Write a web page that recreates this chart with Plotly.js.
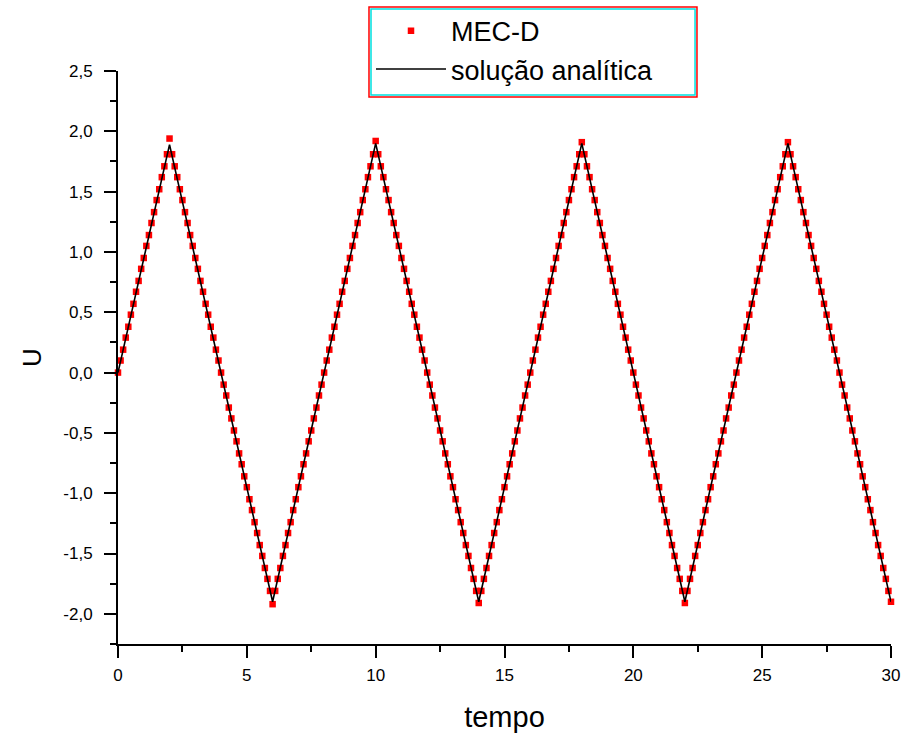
<!DOCTYPE html>
<html>
<head>
<meta charset="utf-8">
<script src="https://cdn.plot.ly/plotly-3.0.1.min.js"></script>
<style>html,body{margin:0;padding:0;background:#fff;}#chart{width:906px;height:747px;}</style>
</head>
<body>
<div id="chart"></div>
<script>
// MEC-D numerical values, sampled every 0.1 time units (t = 0 ... 30)
var u_0_2 = [0.00,0.10,0.19,0.29,0.38,0.48,0.57,0.67,0.76,0.86,0.95,1.05,1.14,1.24,1.33,1.43,1.52,1.62,1.71,1.81,1.94];
var u_2_6 = [1.81,1.71,1.62,1.52,1.43,1.33,1.24,1.14,1.05,0.95,0.86,0.76,0.67,0.57,0.48,0.38,0.29,0.19,0.10,0.00,-0.10,-0.19,-0.29,-0.38,-0.48,-0.57,-0.67,-0.76,-0.86,-0.95,-1.05,-1.14,-1.24,-1.33,-1.43,-1.52,-1.62,-1.71,-1.81,-1.92];
var u_6_10 = [-1.81,-1.71,-1.62,-1.52,-1.43,-1.33,-1.24,-1.14,-1.05,-0.95,-0.86,-0.76,-0.67,-0.57,-0.48,-0.38,-0.29,-0.19,-0.10,0.00,0.10,0.19,0.29,0.38,0.48,0.57,0.67,0.76,0.86,0.95,1.05,1.14,1.24,1.33,1.43,1.52,1.62,1.71,1.81,1.92];
var u_10_14 = [1.81,1.71,1.62,1.52,1.43,1.33,1.24,1.14,1.05,0.95,0.86,0.76,0.67,0.57,0.48,0.38,0.29,0.19,0.10,0.00,-0.10,-0.19,-0.29,-0.38,-0.48,-0.57,-0.67,-0.76,-0.86,-0.95,-1.05,-1.14,-1.24,-1.33,-1.43,-1.52,-1.62,-1.71,-1.81,-1.91];
var u_14_18 = [-1.81,-1.71,-1.62,-1.52,-1.43,-1.33,-1.24,-1.14,-1.05,-0.95,-0.86,-0.76,-0.67,-0.57,-0.48,-0.38,-0.29,-0.19,-0.10,0.00,0.10,0.19,0.29,0.38,0.48,0.57,0.67,0.76,0.86,0.95,1.05,1.14,1.24,1.33,1.43,1.52,1.62,1.71,1.81,1.91];
var u_18_22 = [1.81,1.71,1.62,1.52,1.43,1.33,1.24,1.14,1.05,0.95,0.86,0.76,0.67,0.57,0.48,0.38,0.29,0.19,0.10,0.00,-0.10,-0.19,-0.29,-0.38,-0.48,-0.57,-0.67,-0.76,-0.86,-0.95,-1.05,-1.14,-1.24,-1.33,-1.43,-1.52,-1.62,-1.71,-1.81,-1.91];
var u_22_26 = [-1.81,-1.71,-1.62,-1.52,-1.43,-1.33,-1.24,-1.14,-1.05,-0.95,-0.86,-0.76,-0.67,-0.57,-0.48,-0.38,-0.29,-0.19,-0.10,0.00,0.10,0.19,0.29,0.38,0.48,0.57,0.67,0.76,0.86,0.95,1.05,1.14,1.24,1.33,1.43,1.52,1.62,1.71,1.81,1.91];
var u_26_30 = [1.81,1.71,1.62,1.52,1.43,1.33,1.24,1.14,1.05,0.95,0.86,0.76,0.67,0.57,0.48,0.38,0.29,0.19,0.10,0.00,-0.10,-0.19,-0.29,-0.38,-0.48,-0.57,-0.67,-0.76,-0.86,-0.95,-1.05,-1.14,-1.24,-1.33,-1.43,-1.52,-1.62,-1.71,-1.81,-1.90];
var mecT0 = 0, mecDt = 0.1;
var mecU = [].concat(u_0_2, u_2_6, u_6_10, u_10_14, u_14_18, u_18_22, u_22_26, u_26_30);

// Analytical solution (triangle wave vertices)
var anaT = [0, 2, 6, 10, 14, 18, 22, 26, 30];
var anaU = [0, 1.89, -1.90, 1.90, -1.90, 1.90, -1.90, 1.90, -1.90];

var xTicks = [0, 5, 10, 15, 20, 25, 30];
var xTickText = ['0', '5', '10', '15', '20', '25', '30'];
var yTicks = [-2.0, -1.5, -1.0, -0.5, 0.0, 0.5, 1.0, 1.5, 2.0, 2.5];
var yTickText = ['-2,0', '-1,5', '-1,0', '-0,5', '0,0', '0,5', '1,0', '1,5', '2,0', '2,5'];

var FONT = 'Liberation Sans, Arial, sans-serif';

var traces = [
  {
    type: 'scatter', mode: 'markers', name: 'MEC-D',
    x0: mecT0, dx: mecDt, y: mecU,
    marker: {symbol: 'square', size: 6.5, color: '#ff0000'},
    cliponaxis: false
  },
  {
    type: 'scatter', mode: 'lines', name: 'solução analítica',
    x: anaT, y: anaU,
    line: {color: '#000000', width: 1.6},
    cliponaxis: false
  }
];

var layout = {
  width: 906, height: 747,
  margin: {l: 118, r: 15, t: 71, b: 103, autoexpand: false},
  paper_bgcolor: '#ffffff', plot_bgcolor: '#ffffff',
  separators: ',.',
  font: {family: FONT, color: '#000000', size: 17},
  showlegend: true,
  legend: {
    x: 0.3273, y: 1.112, xanchor: 'left', yanchor: 'top',
    bgcolor: 'rgba(0,0,0,0)', borderwidth: 0,
    font: {family: FONT, size: 27, color: '#000000'},
    itemwidth: 70, tracegroupgap: 0
  },
  xaxis: {
    range: [0, 30], tickvals: xTicks, ticktext: xTickText,
    showgrid: false, zeroline: false, showline: true, linecolor: '#000', linewidth: 2,
    ticks: 'outside', ticklen: 12, tickwidth: 2, tickcolor: '#000',
    minor: {dtick: 2.5, ticks: 'outside', ticklen: 6, tickwidth: 2, tickcolor: '#000', showgrid: false},
    tickfont: {family: FONT, size: 17},
    ticklabelstandoff: 3,
    title: {text: 'tempo', font: {family: FONT, size: 29}, standoff: 22}
  },
  yaxis: {
    range: [-2.25, 2.5], tickvals: yTicks, ticktext: yTickText,
    showgrid: false, zeroline: false, showline: true, linecolor: '#000', linewidth: 2,
    ticks: 'outside', ticklen: 12, tickwidth: 2, tickcolor: '#000',
    minor: {dtick: 0.25, tick0: 0, ticks: 'outside', ticklen: 6, tickwidth: 2, tickcolor: '#000', showgrid: false},
    tickfont: {family: FONT, size: 17},
    ticklabelstandoff: 8,
    title: {text: 'U', font: {family: FONT, size: 26}, standoff: 14}
  },
  shapes: [
    {type: 'rect', xref: 'paper', yref: 'paper', x0: 0.3247, x1: 0.749, y0: 0.9546, y1: 1.1117,
     line: {color: '#ff0000', width: 1.5}, fillcolor: 'rgba(0,0,0,0)', layer: 'above'},
    {type: 'rect', xref: 'paper', yref: 'paper', x0: 0.3273, x1: 0.7465, y0: 0.9581, y1: 1.1082,
     line: {color: '#00e0e0', width: 1.5}, fillcolor: 'rgba(0,0,0,0)', layer: 'above'}
  ]
};

Plotly.newPlot('chart', traces, layout, {displayModeBar: false, staticPlot: true});
</script>
</body>
</html>
